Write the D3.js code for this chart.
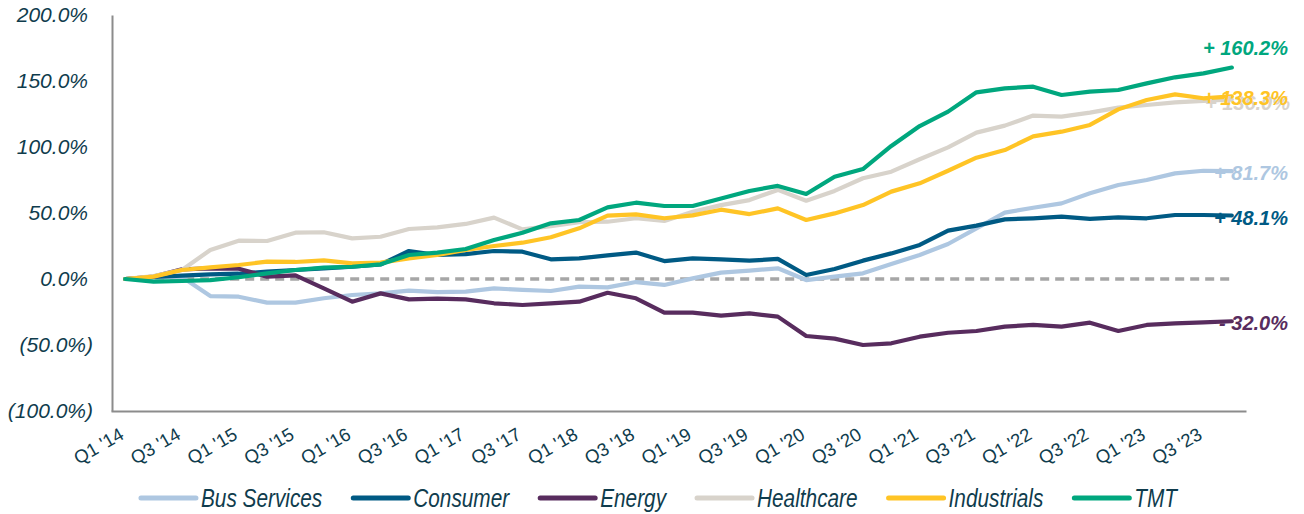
<!DOCTYPE html>
<html>
<head>
<meta charset="utf-8">
<script src="https://cdn.jsdelivr.net/npm/d3@7"></script>
<style>
  body { margin: 0; background: #fff; }
  svg { display: block; }
</style>
</head>
<body>
<script>
// quarters on the category axis
const quarters = [];
for (let yr = 14; yr <= 23; yr++) {
    for (let q = 1; q <= 4; q++) quarters.push(`Q${q} '${yr}`);
}

// cumulative return by sector, in %
const busServices = [0, 1.0, 1.5, -12.9, -13.4, -17.9, -17.9, -14.6, -12.1, -10.9, -8.8, -10.0, -9.6, -7.1, -8.3, -9.1, -5.8, -6.3, -2.3, -4.5, 0.5, 4.8, 6.3, 8.1, -0.8, 1.8, 4.3, 11.4, 18.2, 26.5, 38.4, 50.3, 54.0, 57.3, 64.9, 71.2, 75.0, 80.0, 82.0, 81.7];
const consumer = [0, 1.5, 2.5, 3.5, 4.0, 5.6, 6.8, 8.1, 9.3, 11.0, 21.2, 18.2, 18.9, 21.2, 20.7, 14.9, 15.6, 17.9, 20.0, 13.6, 15.6, 14.9, 13.9, 15.2, 3.0, 7.6, 13.9, 19.4, 25.8, 36.6, 40.4, 45.2, 46.0, 47.2, 45.5, 46.7, 46.0, 48.5, 48.5, 48.1];
const energy = [0, 1.8, 7.3, 8.1, 7.8, 1.8, 2.8, -7.1, -17.2, -10.9, -15.4, -14.9, -15.4, -18.4, -19.7, -18.4, -17.2, -10.4, -14.6, -25.5, -25.5, -27.8, -26.0, -28.5, -43.2, -45.2, -50.0, -48.7, -43.7, -40.7, -39.4, -36.1, -34.8, -36.1, -33.1, -39.4, -34.8, -33.6, -32.8, -32.0];
const healthcare = [0, 2.3, 6.8, 22.0, 29.0, 28.8, 35.1, 35.4, 30.8, 32.0, 37.9, 39.1, 41.7, 46.5, 37.6, 40.0, 43.0, 43.4, 46.0, 44.0, 51.0, 56.0, 59.8, 67.5, 59.3, 66.7, 76.3, 81.3, 90.7, 99.7, 110.9, 116.2, 123.8, 123.0, 126.0, 129.8, 131.8, 133.8, 135.0, 136.0];
const industrials = [0, 1.8, 6.8, 8.8, 10.6, 13.1, 12.9, 14.1, 11.9, 12.4, 15.6, 18.2, 22.0, 25.0, 27.5, 31.6, 38.4, 48.0, 49.0, 46.0, 48.2, 52.5, 49.2, 53.5, 44.7, 49.7, 56.0, 66.2, 72.5, 82.0, 91.9, 97.7, 108.0, 111.6, 116.7, 128.5, 135.6, 139.9, 136.9, 138.3];
const tmt = [0, -2.0, -1.5, -0.8, 1.3, 4.3, 6.8, 8.6, 9.3, 11.1, 18.2, 20.0, 22.7, 29.5, 35.0, 42.2, 44.7, 54.3, 57.8, 55.3, 55.3, 61.0, 66.7, 70.5, 64.4, 77.5, 83.3, 100.8, 115.9, 126.8, 141.4, 144.4, 145.7, 139.4, 141.9, 143.2, 148.2, 152.8, 155.8, 160.2];

const seriesNames = ["Bus Services", "Consumer", "Energy", "Healthcare", "Industrials", "TMT"];
const seriesValues = [busServices, consumer, energy, healthcare, industrials, tmt];
const seriesColors = ["#aec7e1", "#005a84", "#582c5e", "#d8d3cb", "#ffc425", "#00a77e"];
const endLabels = ["+ 81.7%", "+ 48.1%", "- 32.0%", "+ 136.0%", "+ 138.3%", "+ 160.2%"];

const yTicks = [-100, -50, 0, 50, 100, 150, 200];

const W = 1304, H = 514;
const TEXT = "#0f3c4d";
const AXIS = "#8c8c8c";

const svg = d3.select("body").append("svg")
    .attr("width", W)
    .attr("height", H);

const x = d3.scaleBand().domain(quarters).range([111, 1246]).padding(0);
const y = d3.scaleLinear().domain([-100, 200]).range([411, 15]);
const cx = q => x(q) + x.bandwidth() / 2;

// y axis
const yAxis = svg.append("g")
    .attr("transform", "translate(112,0)")
    .call(d3.axisLeft(y).tickValues(yTicks).tickSize(0).tickPadding(24)
        .tickFormat(v => v < 0 ? `(${(-v).toFixed(1)}%)` : `${v.toFixed(1)}%`));
yAxis.select(".domain").attr("stroke", AXIS).attr("stroke-width", 2);
yAxis.selectAll("text")
    .attr("fill", TEXT)
    .style("font", "italic 21px 'Liberation Sans', Arial, sans-serif")
    .attr("dx", v => v < 0 ? 5 : 0);

// x axis
const xAxis = svg.append("g")
    .attr("transform", `translate(0,411)`)
    .call(d3.axisBottom(x).tickValues(quarters.filter((q, i) => i % 2 === 0)).tickSize(0).tickPadding(0));
xAxis.select(".domain").attr("stroke", AXIS).attr("stroke-width", 2);
xAxis.selectAll("text")
    .attr("fill", TEXT)
    .style("font", "18.5px 'Liberation Sans', Arial, sans-serif")
    .attr("text-anchor", "end")
    .attr("y", 0)
    .attr("dy", 0)
    .attr("transform", "translate(0,27) rotate(-30)");

// zero line
svg.append("line")
    .attr("x1", cx(quarters[0]))
    .attr("x2", cx(quarters[quarters.length - 1]))
    .attr("y1", y(0))
    .attr("y2", y(0))
    .attr("stroke", "#a6a6a6")
    .attr("stroke-width", 3.5)
    .attr("stroke-dasharray", "9,6");

// lines
const line = d3.line().x((d, i) => cx(quarters[i])).y(d => y(d));

svg.append("g").selectAll("path")
    .data(seriesValues)
    .join("path")
    .attr("d", line)
    .attr("fill", "none")
    .attr("stroke", (d, i) => seriesColors[i])
    .attr("stroke-width", 4.2)
    .attr("stroke-linejoin", "round")
    .attr("stroke-linecap", "round");

// end labels, drawn so Industrials sits over Healthcare
const labelOrder = [3, 0, 1, 2, 4, 5];
svg.append("g").selectAll("text")
    .data(labelOrder)
    .join("text")
    .attr("x", i => i === 3 ? 1290 : 1288)
    .attr("y", i => {
        const last = seriesValues[i][seriesValues[i].length - 1];
        return i === 5 ? y(last) - 20 : y(last) + (i === 3 ? 4 : 2);
    })
    .attr("dy", "0.35em")
    .attr("text-anchor", "end")
    .attr("fill", i => seriesColors[i])
    .style("font", "italic bold 20px 'Liberation Sans', Arial, sans-serif")
    .text(i => endLabels[i]);

// legend (condensed italic, squeezed horizontally)
const legend = svg.append("g").attr("transform", "translate(0,498)");
const items = legend.selectAll("g")
    .data(seriesNames)
    .join("g");
items.append("line")
    .attr("x1", 0).attr("x2", 55)
    .attr("y1", 0).attr("y2", 0)
    .attr("stroke", (d, i) => seriesColors[i])
    .attr("stroke-width", 5)
    .attr("stroke-linecap", "round");
const squeeze = 0.8;
items.append("text")
    .attr("transform", `translate(60,0) scale(${squeeze},1)`)
    .attr("dy", "0.35em")
    .attr("fill", TEXT)
    .style("font", "italic 26px 'Liberation Sans', Arial, sans-serif")
    .text(d => d);

let pos = 0;
const offsets = [];
items.each(function() {
    offsets.push(pos);
    const w = 60 + this.querySelector("text").getComputedTextLength() * squeeze;
    pos += w + 31;
});
const total = pos - 31;
const start = 659 - total / 2;
items.attr("transform", (d, i) => `translate(${start + offsets[i]},0)`);
</script>
</body>
</html>
